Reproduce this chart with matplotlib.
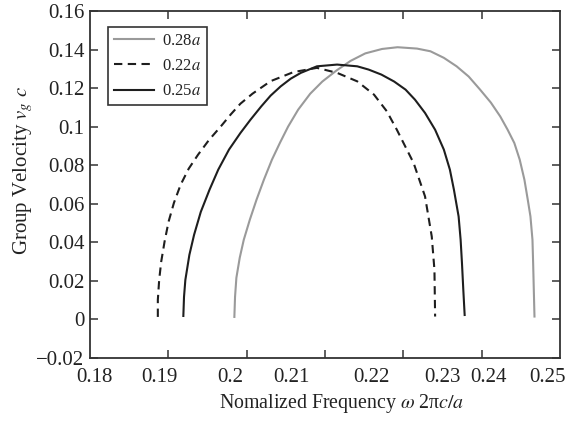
import numpy as np
import matplotlib
matplotlib.use("Agg")
import matplotlib.pyplot as plt
from matplotlib.ticker import FixedLocator, NullFormatter

plt.rcParams['font.family'] = ['Liberation Serif', 'DejaVu Serif']
plt.rcParams['mathtext.fontset'] = 'stix'

# ---- data ----
freq_028 = [0.2015, 0.2016, 0.2018, 0.2023, 0.2029, 0.2038, 0.2048, 0.2059, 0.2071, 0.2083,
            0.2095, 0.2110, 0.2128, 0.2146, 0.2167, 0.2188, 0.2210, 0.2235, 0.2258,
            0.2287, 0.2307, 0.2327, 0.2346, 0.2364, 0.2381, 0.2397, 0.2411, 0.2422, 0.2432,
            0.2440, 0.2447, 0.2452, 0.2456, 0.2459, 0.2460, 0.2461, 0.2462]
vg_028 = [0.0013, 0.0117, 0.0216, 0.0320, 0.0413, 0.0517, 0.0621, 0.0725, 0.0829, 0.0917,
          0.1000, 0.1088, 0.1171, 0.1234, 0.1291, 0.1341, 0.1380, 0.1403, 0.1412,
          0.1405, 0.1391, 0.1357, 0.1313, 0.1260, 0.1192, 0.1125, 0.1053, 0.0984, 0.0915,
          0.0829, 0.0725, 0.0621, 0.0534, 0.0413, 0.0292, 0.0153, 0.0015]

freq_022 = [0.1901, 0.1901, 0.1903, 0.1906, 0.1911, 0.1917, 0.1925, 0.1935, 0.1947, 0.1961,
            0.1977, 0.1995, 0.2010, 0.2024, 0.2042, 0.2069, 0.2103, 0.2138, 0.2168, 0.2198,
            0.2223, 0.2242, 0.2257, 0.2282, 0.2299, 0.2309, 0.2313, 0.2314]
vg_022 = [0.0013, 0.0101, 0.0205, 0.0299, 0.0403, 0.0507, 0.0605, 0.0699, 0.0782, 0.0855,
          0.0930, 0.1002, 0.1065, 0.1119, 0.1171, 0.1236, 0.1283, 0.1305, 0.1279, 0.1235,
          0.1166, 0.1080, 0.0984, 0.0811, 0.0638, 0.0430, 0.0257, 0.0015]

freq_025 = [0.1939, 0.1940, 0.1942, 0.1948, 0.1955, 0.1965, 0.1978, 0.1991, 0.2007, 0.2024,
            0.2039, 0.2055, 0.2069, 0.2084, 0.2099, 0.2114, 0.2138, 0.2168, 0.2198, 0.2215,
            0.2234, 0.2253, 0.2270, 0.2284, 0.2299, 0.2314, 0.2327, 0.2336, 0.2342, 0.2349,
            0.2352, 0.2354, 0.2356, 0.2358]
vg_025 = [0.0018, 0.0117, 0.0205, 0.0335, 0.0439, 0.0558, 0.0673, 0.0777, 0.0881, 0.0967,
          0.1036, 0.1105, 0.1161, 0.1209, 0.1249, 0.1279, 0.1313, 0.1322, 0.1313, 0.1296,
          0.1270, 0.1234, 0.1192, 0.1140, 0.1071, 0.0984, 0.0881, 0.0777, 0.0673, 0.0534,
          0.0413, 0.0292, 0.0153, 0.0023]

series_labels = ['0.28$a$', '0.22$a$', '0.25$a$']

xtick_labels = ['0.18', '0.19', '0.2', '0.21', '0.22', '0.23', '0.24', '0.25']
ytick_values = [-0.02, 0.0, 0.02, 0.04, 0.06, 0.08, 0.1, 0.12, 0.14, 0.16]
ytick_labels = ['\u22120.02', '0', '0.02', '0.04', '0.06', '0.08', '0.1', '0.12', '0.14', '0.16']

# ---- layout (positions of the printed x labels, as placed in the original) ----
xlim = (0.18, 0.25)
xtick_label_pos = [0.1807, 0.1903, 0.2009, 0.2100, 0.2219, 0.2325, 0.2393, 0.2481]

fig = plt.figure(figsize=(5.73, 4.24), dpi=100)
ax = fig.add_axes([0.1571, 0.1557, 0.8202, 0.8184])

gray = '#9a9a9a'
dark = '#1e1e1e'
ax.plot(freq_028, vg_028, color=gray, lw=1.5, label=series_labels[0])
ax.plot(freq_022, vg_022, color=dark, lw=1.5, ls=(0, (4, 2.6)), label=series_labels[1])
ax.plot(freq_025, vg_025, color=dark, lw=1.5, label=series_labels[2])

ax.set_xlim(*xlim)
ax.set_ylim(-0.02, 0.16)

# tick marks (minor, evenly spaced) and printed labels (major, no marks)
ax.xaxis.set_minor_locator(FixedLocator(np.linspace(xlim[0], xlim[1], 7)[1:-1]))
ax.xaxis.set_minor_formatter(NullFormatter())
ax.set_xticks(xtick_label_pos)
ax.set_xticklabels(xtick_labels)
ax.tick_params(axis='x', which='major', length=0, pad=7, labelsize=15, colors='#222222')
ax.tick_params(axis='x', which='minor', direction='in', length=6, width=1.1,
               top=True, bottom=True, color='#333333')

ax.set_yticks(ytick_values)
ax.set_yticklabels(ytick_labels)
ax.tick_params(axis='y', which='major', direction='in', length=6, width=1.1,
               left=True, right=True, labelsize=15, pad=4, color='#333333', labelcolor='#222222')

for s in ax.spines.values():
    s.set_linewidth(1.3)
    s.set_color('#333333')

ax.set_xlabel('Nomalized Frequency $\\omega$ 2\u03c0$c/a$', fontsize=14.3, color='#222222')
ax.xaxis.label.set_va('center')
ax.xaxis.set_label_coords(0.536, -0.1326)
ax.set_ylabel('Group Velocity $v_g$ $c$', fontsize=15, color='#222222')
ax.yaxis.label.set_va('center')
ax.yaxis.set_label_coords(-0.1426, 0.542)

leg = ax.legend(loc='upper left', bbox_to_anchor=(0.038, 0.953), borderaxespad=0,
                fontsize=12, handlelength=2.4, handletextpad=0.5, labelspacing=0.55,
                borderpad=0.35, fancybox=False, framealpha=1, edgecolor='#333333')
leg.get_frame().set_linewidth(1.2)
for t in leg.get_texts():
    t.set_color('#222222')

fig.savefig('out.png', dpi=100)
